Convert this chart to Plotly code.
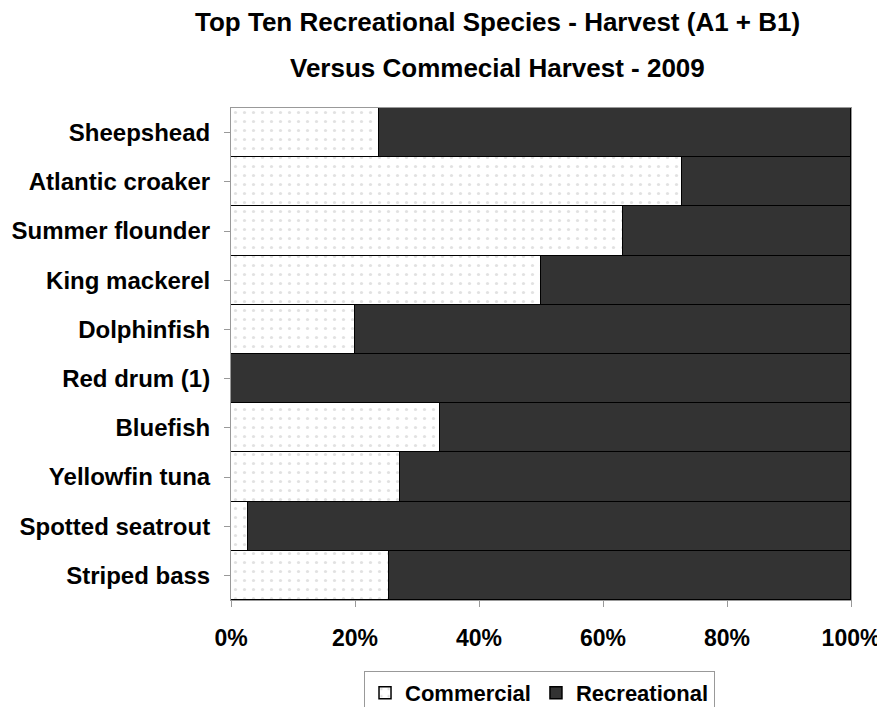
import plotly.graph_objects as go

species = ["Sheepshead", "Atlantic croaker", "Summer flounder", "King mackerel",
           "Dolphinfish", "Red drum (1)", "Bluefish", "Yellowfin tuna",
           "Spotted seatrout", "Striped bass"]
commercial = [23.9, 72.8, 63.3, 50.0, 20.0, 0.0, 33.7, 27.3, 2.7, 25.5]
recreational = [76.1, 27.2, 36.7, 50.0, 80.0, 100.0, 66.3, 72.7, 97.3, 74.5]
x_ticks = [0, 20, 40, 60, 80, 100]
x_tick_labels = ["0%", "20%", "40%", "60%", "80%", "100%"]

FONT = "Liberation Sans, Arial, sans-serif"

fig = go.Figure()
fig.add_trace(go.Bar(
    y=species, x=commercial, orientation="h", name="Commercial",
    marker=dict(color="white", line=dict(color="black", width=1.5),
                pattern=dict(shape=".", fgcolor="#c4c4c4", bgcolor="white",
                             size=9, solidity=0.1)),
))
fig.add_trace(go.Bar(
    y=species, x=recreational, orientation="h", name="Recreational",
    marker=dict(color="#333333", line=dict(color="black", width=1.5)),
))

fig.update_layout(
    width=885, height=707,
    barmode="stack", bargap=0,
    plot_bgcolor="white", paper_bgcolor="white",
    margin=dict(l=223, r=42, t=100, b=115, autoexpand=False),
    font=dict(family=FONT, size=22, color="black", weight="bold"),
    showlegend=True,
    legend=dict(orientation="h", x=0.4976, xanchor="center", y=-0.144, yanchor="top",
                bordercolor="#999999", borderwidth=1,
                font=dict(family=FONT, size=22, color="black", weight="bold"),
                itemwidth=30, traceorder="normal"),
    annotations=[
        dict(text="Top Ten Recreational Species - Harvest (A1 + B1)", xref="paper", yref="paper",
             x=0.43, y=1.0, xanchor="center", yanchor="middle", yshift=86, showarrow=False,
             font=dict(family=FONT, size=26, weight="bold")),
        dict(text="Versus Commecial Harvest - 2009", xref="paper", yref="paper",
             x=0.43, y=1.0, xanchor="center", yanchor="middle", yshift=40, showarrow=False,
             font=dict(family=FONT, size=26, weight="bold")),
    ],
)
fig.update_xaxes(range=[0, 100], tickvals=x_ticks, ticktext=x_tick_labels,
                 showgrid=False, zeroline=False, ticks="outside", ticklen=6,
                 tickcolor="#999999", showline=True, linecolor="#999999", mirror=True,
                 ticklabelstandoff=11,
                 tickfont=dict(family=FONT, size=23, weight="bold"))
fig.update_yaxes(autorange="reversed", showgrid=False, ticks="outside", ticklen=6,
                 tickcolor="#999999", showline=True, linecolor="#999999", mirror=True,
                 ticklabelstandoff=9,
                 tickfont=dict(family=FONT, size=24, weight="bold"))

fig.write_html("out.html")
